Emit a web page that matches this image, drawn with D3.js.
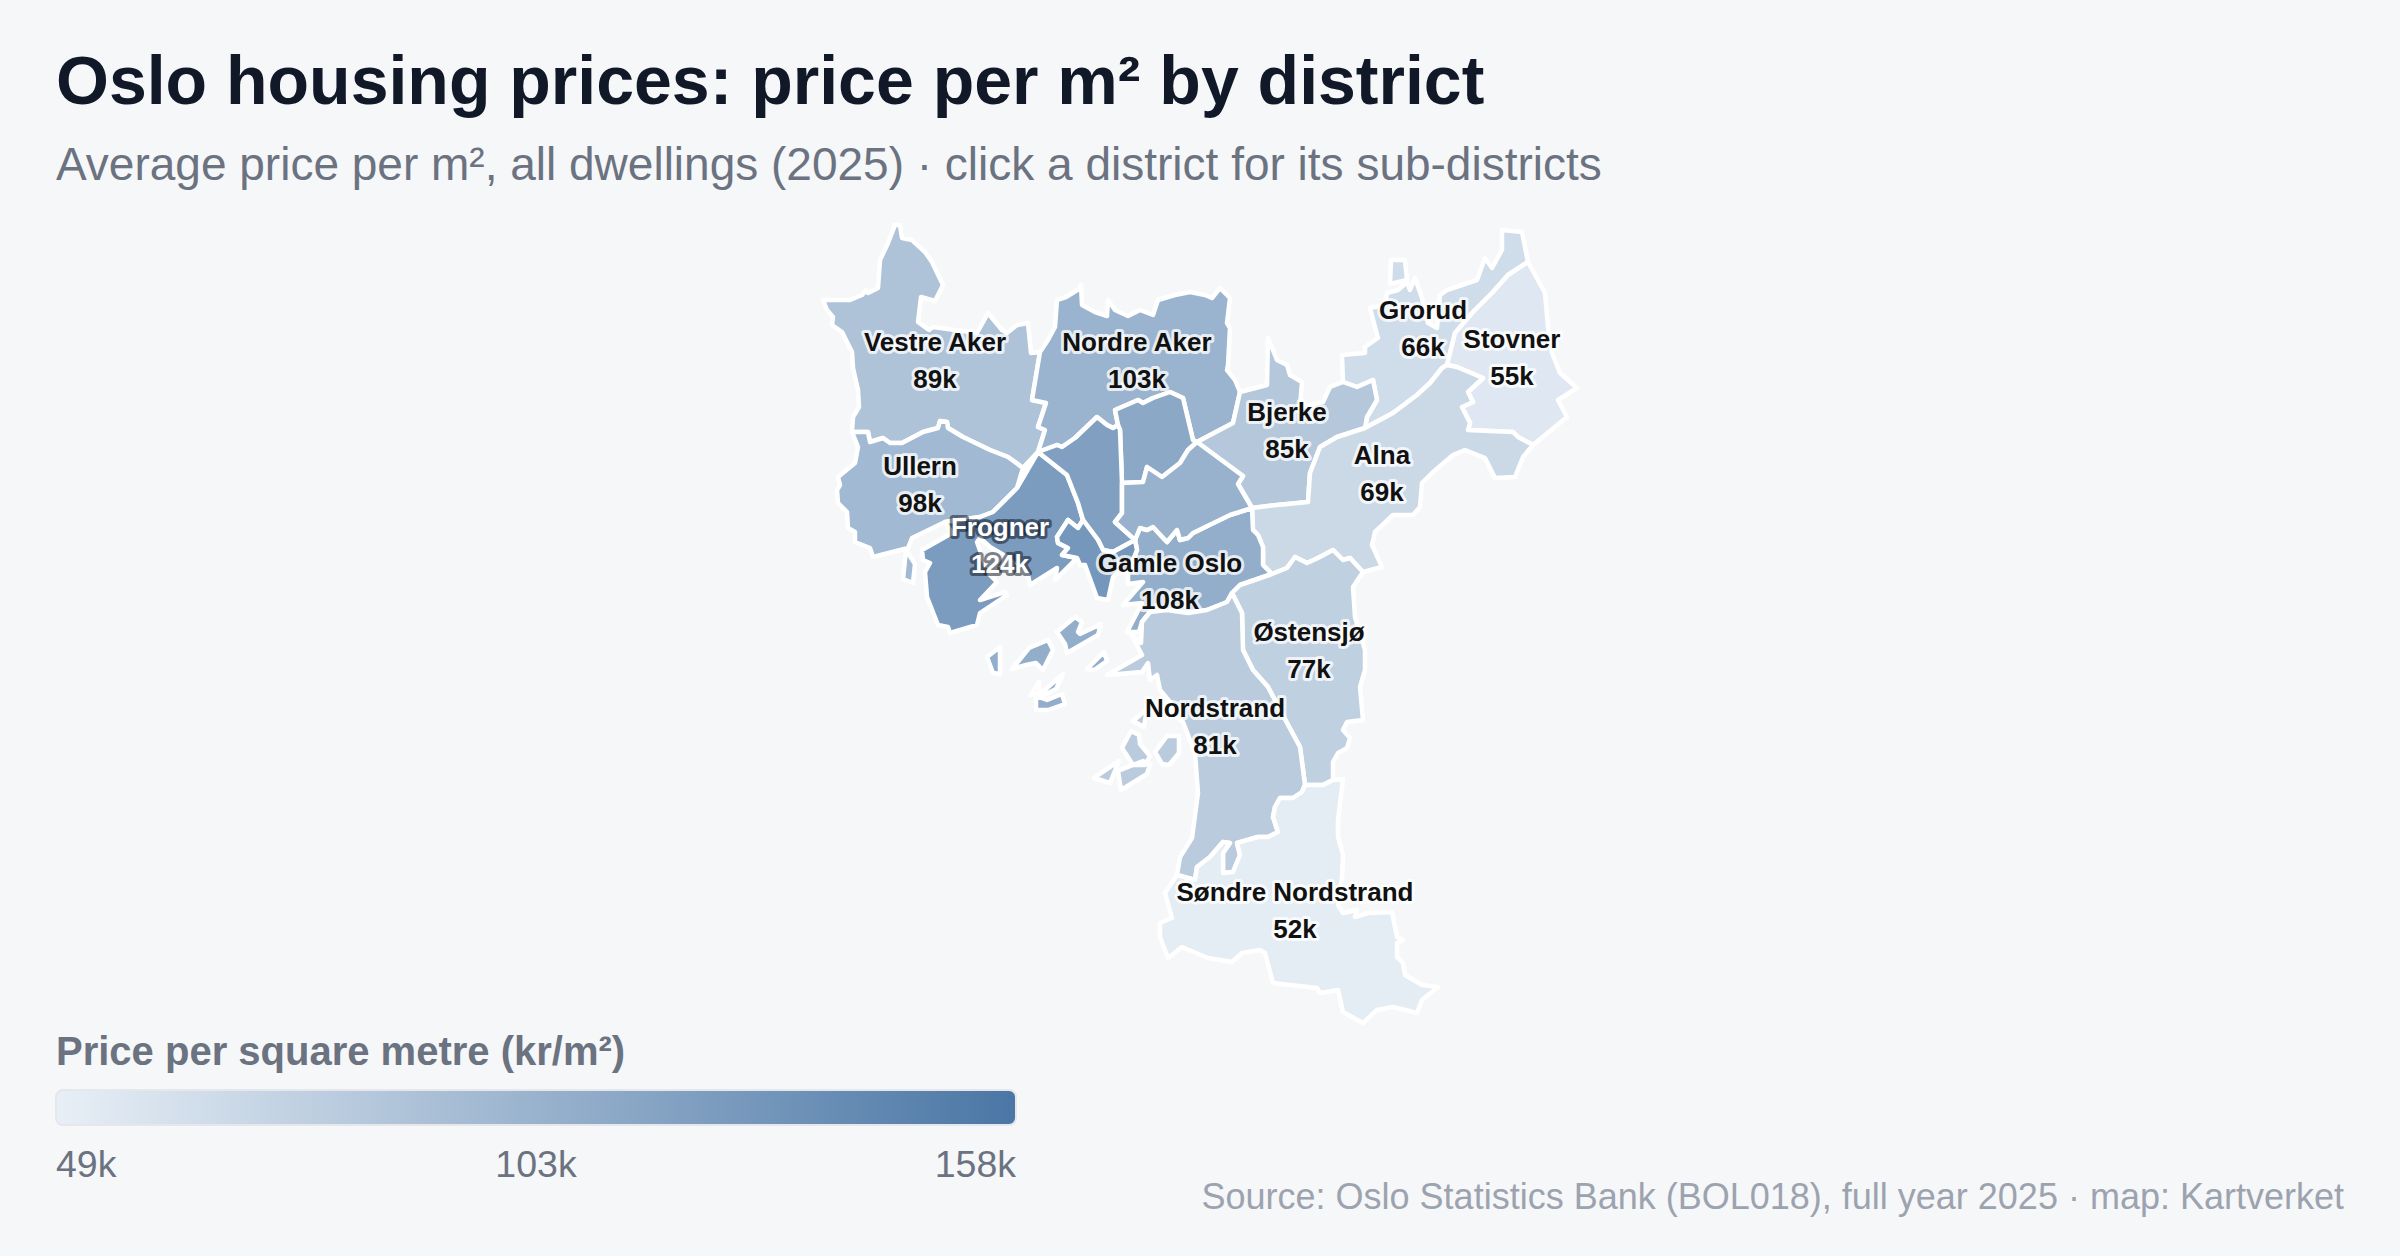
<!DOCTYPE html>
<html>
<head>
<meta charset="utf-8">
<title>Oslo housing prices</title>
<script src="https://cdn.jsdelivr.net/npm/d3@7"></script>
<style>
html, body { margin: 0; padding: 0; background: #f6f7f9; }
svg { display: block; font-family: "Liberation Sans", Arial, sans-serif; }
</style>
</head>
<body>
<svg id="chart" width="2400" height="1256"></svg>
<script>
// prices in thousand kr per m2
var districtNames = ["Vestre Aker","Nordre Aker","Grorud","Stovner","Bjerke","Alna","Ullern","Frogner","Gamle Oslo","Østensjø","Nordstrand","Søndre Nordstrand"];
var districtPrices = [89,103,66,55,85,69,98,124,108,77,81,52];
// these have no label on the map, price read off the fill colour
var quietNames = ["Sagene","St. Hanshaugen","Grünerløkka","Sentrum"];
var quietPrices = [113,120,104,128];
var legendTicks = [49,103,158];
var priceRange = [49,158];
var rampColors = ["#e8eff6","#4a76a5"];

// boundary arcs, shared between neighbours
var vaOuter = [[852,432],[853,417],[859,407],[858,390],[853,368],[852,352],[842,332],[832,325],[833,317],[827,310],[823,300],[850,300],[862,295],[866,290],[868,293],[878,288],[880,260],[888,243],[895,225],[900,225],[902,238],[912,240],[925,252],[932,262],[943,285],[935,301],[921,297],[918,322],[929,330],[933,327],[977,333],[988,313],[1002,330],[1007,333],[1017,325],[1028,323],[1031,353],[1040,352]];
var vaNa = [[1040,352],[1037,370],[1032,400],[1046,403],[1038,427],[1045,430],[1038,452]];
var vaFr = [[1038,452],[1023,468]];
var ulVa = [[852,432],[868,432],[870,442],[883,438],[890,443],[902,443],[923,432],[938,428],[940,421],[947,422],[948,428],[963,437],[990,450],[1008,457],[1023,468]];
var ulFr = [[1023,468],[1017,488],[993,512],[980,517],[945,522]];
var ulCoast = [[945,522],[912,538],[908,548],[873,557],[870,548],[855,542],[855,532],[848,528],[847,512],[838,503],[837,490],[840,485],[838,477],[855,463],[858,447],[852,432]];
var naOuter = [[1040,352],[1048,340],[1055,327],[1057,300],[1066,297],[1079,289],[1081,285],[1082,305],[1095,312],[1107,316],[1108,300],[1115,310],[1128,316],[1140,310],[1153,315],[1158,300],[1175,295],[1190,292],[1205,295],[1212,298],[1220,288],[1230,298],[1227,323],[1230,328],[1228,365],[1227,370],[1235,380],[1240,392]];
var naBj = [[1240,392],[1233,423],[1197,442]];
var naSa = [[1197,442],[1193,440],[1183,398],[1170,392],[1153,398],[1143,403],[1138,400],[1115,410],[1118,425]];
var naSh = [[1118,425],[1113,428],[1107,425],[1097,417],[1075,438],[1062,447],[1057,445],[1038,452]];
var saSh = [[1118,425],[1120,430],[1122,483]];
var saGr = [[1122,483],[1143,482],[1147,467],[1162,477],[1180,463],[1188,450],[1197,442]];
var shGr = [[1122,483],[1122,513],[1115,522],[1135,540]];
var shSe = [[1135,540],[1113,552],[1103,550],[1098,540],[1083,520]];
var shFr = [[1083,520],[1078,503],[1067,475],[1038,452]];
var grBj = [[1197,442],[1243,476],[1238,484],[1252,508]];
var grGa = [[1252,508],[1230,515],[1193,533],[1188,538],[1180,540],[1177,530],[1167,542],[1153,527],[1147,530],[1140,528],[1135,540]];
var seFr = [[1083,520],[1078,528],[1068,520],[1057,537],[1058,543],[1068,548],[1062,555],[1077,558]];
var seCoast = [[1077,558],[1080,565],[1085,565],[1097,598],[1108,600],[1113,577],[1117,573],[1128,573],[1137,550]];
var gaSe = [[1137,550],[1135,540]];
var frCoast = [[1077,558],[1055,580],[1057,568],[1030,585],[1028,575],[1020,570],[1007,557],[990,547],[980,538],[977,542],[988,573],[997,582],[980,600],[1005,592],[1007,595],[980,613],[977,625],[950,633],[948,627],[938,625],[927,597],[925,572],[930,563],[923,560],[922,550],[952,533],[945,522]];
var gaAl = [[1252,508],[1253,530],[1258,535],[1263,547],[1263,565],[1272,574]];
var gaOs = [[1272,574],[1240,585],[1232,593]];
var gaNo = [[1232,593],[1227,602],[1207,610],[1188,613],[1167,610],[1150,612],[1142,622]];
var gaCoast = [[1142,622],[1139,632],[1127,632],[1142,603],[1123,605],[1143,582],[1128,584],[1128,573],[1137,550]];
var alBj = [[1252,508],[1277,505],[1308,502],[1310,473],[1320,447],[1337,437],[1365,428]];
var alGr = [[1365,428],[1393,413],[1417,395],[1430,383],[1442,368],[1447,365]];
var alSt = [[1447,365],[1457,367],[1483,378],[1468,392],[1473,402],[1462,407],[1470,423],[1468,430],[1513,432],[1518,437],[1533,445]];
var alOuter = [[1533,445],[1523,457],[1515,477],[1495,478],[1485,458],[1465,450],[1453,455],[1432,473],[1422,483],[1420,507],[1413,515],[1393,515],[1375,532],[1372,545],[1382,567],[1363,572]];
var alOs = [[1363,572],[1350,558],[1343,560],[1333,550],[1318,558],[1307,563],[1295,557],[1287,568],[1272,574]];
var bjOuter = [[1240,392],[1267,385],[1268,338],[1277,360],[1287,365],[1290,375],[1302,382],[1300,407],[1323,402],[1330,387],[1343,382]];
var bjGr = [[1343,382],[1357,387],[1373,380],[1377,400],[1367,417],[1365,428]];
var goOuter = [[1343,382],[1342,355],[1365,353],[1365,347],[1378,338],[1375,327],[1370,308],[1385,305],[1387,293],[1398,290],[1407,282],[1410,290],[1415,278],[1422,298],[1428,323],[1437,328],[1440,295],[1447,290],[1477,280],[1485,258],[1492,268],[1502,250],[1502,230],[1522,232],[1528,262]];
var goSt = [[1528,262],[1508,275],[1492,293],[1473,312],[1455,333],[1447,365]];
var stOuter = [[1528,262],[1545,293],[1548,327],[1552,353],[1560,373],[1577,388],[1558,400],[1567,417],[1533,445]];
var osOuter = [[1363,572],[1353,587],[1355,617],[1365,650],[1365,670],[1360,687],[1363,720],[1347,722],[1343,730],[1350,738],[1347,748],[1338,753],[1333,762],[1333,780]];
var osSo = [[1333,780],[1323,785],[1305,785]];
var noOs = [[1305,785],[1300,747],[1287,723],[1268,687],[1253,670],[1243,650],[1242,613],[1232,593]];
var noCoast = [[1142,622],[1141,643],[1131,634],[1142,655],[1107,675],[1142,672],[1148,663],[1150,680],[1157,675],[1160,690],[1170,702],[1177,717],[1183,722],[1195,753],[1198,793],[1192,838],[1180,857],[1177,875]];
var noSo = [[1177,875],[1195,880],[1197,867],[1210,857],[1223,842],[1230,843],[1223,853],[1223,873],[1233,872],[1240,855],[1237,843],[1258,837],[1268,837],[1278,832],[1273,817],[1275,807],[1280,798],[1293,798],[1302,792],[1305,785]];
var soOuter = [[1333,780],[1343,779],[1338,820],[1338,837],[1343,855],[1342,877],[1338,905],[1343,913],[1357,910],[1355,917],[1368,913],[1392,912],[1397,937],[1403,940],[1397,943],[1397,957],[1403,963],[1405,975],[1422,985],[1438,987],[1422,1000],[1417,1013],[1393,1007],[1377,1010],[1363,1023],[1343,1012],[1338,990],[1320,993],[1317,988],[1273,983],[1265,953],[1260,950],[1242,953],[1232,962],[1208,958],[1182,947],[1168,958],[1160,937],[1160,923],[1172,918],[1165,893],[1177,875]];

// islands
var ulIslands = [[[906,550],[915,564],[913,583],[903,579]]];
var goIslands = [[[1391,260],[1405,260],[1407,280],[1390,284]]];
var gaIslands = [
	[[1057,632],[1075,617],[1082,622],[1078,632],[1080,634],[1101,624],[1098,635],[1067,653],[1065,644]],
	[[1012,669],[1029,648],[1048,640],[1053,650],[1043,670],[1036,663],[1026,665]],
	[[987,657],[1000,647],[1000,674],[993,673]],
	[[1087,669],[1104,652],[1107,661],[1094,670]],
	[[1039,695],[1063,674],[1056,689],[1042,696]],
	[[1036,696],[1047,700],[1062,694],[1065,704],[1048,710],[1036,710]],
	[[1031,695],[1039,682],[1039,692]]
];
var noIslands = [
	[[1131,731],[1139,735],[1140,744],[1150,756],[1145,765],[1133,765],[1122,748]],
	[[1118,771],[1143,761],[1150,764],[1147,774],[1121,790]],
	[[1179,736],[1179,753],[1169,765],[1162,764],[1155,752],[1167,736]],
	[[1094,778],[1119,761],[1110,783]],
	[[1133,721],[1147,709],[1144,727]]
];

// where each label sits on the map, same order as districtNames
var labelAnchors = [[935,362],[1137,362],[1423,330],[1512,359],[1287,432],[1382,475],[920,486],[1000,547],[1170,583],[1309,652],[1215,728],[1295,912]];

function rev(a){
	return a.slice().reverse();
}
// join arcs into one closed ring, dropping the repeated joint points
function ring(){
	var out = [];
	for(var i=0;i<arguments.length;i++){
		var arc = arguments[i];
		out = out.concat(i==0 ? arc : arc.slice(1));
	}
	return out;
}
function feature(name, price, rings){
	var polys = rings.map(function(r){
		var closed = r.slice();
		closed.push(r[0]);
		return [closed];
	});
	return {type:"Feature", properties:{name:name, price:price}, geometry:{type:"MultiPolygon", coordinates:polys}};
}

var shapes = {
	"Vestre Aker": [ring(vaOuter,vaNa,vaFr,rev(ulVa))],
	"Ullern": [ring(ulVa,ulFr,ulCoast)].concat(ulIslands),
	"Nordre Aker": [ring(naOuter,naBj,naSa,naSh,rev(vaNa))],
	"Sagene": [ring(saSh,saGr,naSa)],
	"St. Hanshaugen": [ring(rev(naSh),saSh,shGr,shSe,shFr)],
	"Grünerløkka": [ring(saGr,grBj,grGa,rev(shGr))],
	"Sentrum": [ring(seFr,seCoast,gaSe,shSe)],
	"Frogner": [ring(rev(vaFr),ulFr,rev(frCoast),rev(seFr),shFr)],
	"Gamle Oslo": [ring(rev(grGa),gaAl,gaOs,gaNo,gaCoast,gaSe)].concat(gaIslands),
	"Alna": [ring(alBj,alGr,alSt,alOuter,alOs,rev(gaAl))],
	"Bjerke": [ring(bjOuter,bjGr,rev(alBj),rev(grBj),rev(naBj))],
	"Grorud": [ring(goOuter,goSt,rev(alGr),rev(bjGr))].concat(goIslands),
	"Stovner": [ring(stOuter,rev(alSt),rev(goSt))],
	"Østensjø": [ring(rev(gaOs),rev(alOs),osOuter,osSo,noOs)],
	"Nordstrand": [ring(gaNo,noCoast,noSo,noOs)].concat(noIslands),
	"Søndre Nordstrand": [ring(noSo,rev(osSo),soOuter)]
};

var svg = d3.select("#chart");

var color = d3.scaleLinear().domain(priceRange).range(rampColors).interpolate(d3.interpolateRgb);

var features = [];
districtNames.forEach(function(n,i){ features.push(feature(n,districtPrices[i],shapes[n])); });
quietNames.forEach(function(n,i){ features.push(feature(n,quietPrices[i],shapes[n])); });

var path = d3.geoPath(d3.geoIdentity());

svg.append("text").attr("x",56).attr("y",104)
	.attr("font-size",68).attr("font-weight",700).attr("fill","#111827")
	.text("Oslo housing prices: price per m² by district");
svg.append("text").attr("x",56).attr("y",180)
	.attr("font-size",46).attr("fill","#6b7280")
	.text("Average price per m², all dwellings (2025) · click a district for its sub-districts");

svg.append("g").selectAll("path")
	.data(features)
	.enter()
		.append("path")
		.attr("d",path)
		.attr("fill",function(d){return color(d.properties.price);})
		.attr("stroke","#fff")
		.attr("stroke-width",4.5)
		.attr("stroke-linejoin","round");

var labels = svg.append("g").attr("text-anchor","middle").attr("font-weight",700).attr("font-size",26);
districtNames.forEach(function(n,i){
	var dark = districtPrices[i] > 120;
	var a = labelAnchors[i];
	[[n,-11],[districtPrices[i]+"k",26]].forEach(function(line){
		labels.append("text")
			.attr("x",a[0]).attr("y",a[1]+line[1])
			.attr("fill",dark ? "#fff" : "#111")
			.attr("stroke",dark ? "rgba(17,24,39,0.55)" : "rgba(255,255,255,0.75)")
			.attr("stroke-width",6)
			.attr("stroke-linejoin","round")
			.attr("paint-order","stroke")
			.text(line[0]);
	});
});

// legend
var legendX = d3.scalePoint().domain(legendTicks).range([56,1016]);
var defs = svg.append("defs");
var grad = defs.append("linearGradient").attr("id","ramp");
grad.selectAll("stop")
	.data(priceRange)
	.enter()
		.append("stop")
		.attr("offset",function(d,i){return i*100+"%";})
		.attr("stop-color",function(d){return color(d);});

svg.append("text").attr("x",56).attr("y",1065)
	.attr("font-size",40).attr("font-weight",700).attr("fill","#6b7280")
	.text("Price per square metre (kr/m²)");
svg.append("rect").attr("x",56).attr("y",1090).attr("width",960).attr("height",35)
	.attr("rx",7).attr("ry",7).attr("fill","url(#ramp)").attr("stroke","#e5e7eb").attr("stroke-width",2);

svg.append("g").selectAll("text")
	.data(legendTicks)
	.enter()
		.append("text")
		.attr("x",function(d){return legendX(d);})
		.attr("y",1177)
		.attr("font-size",37.5)
		.attr("fill","#6b7280")
		.attr("text-anchor",function(d,i){return ["start","middle","end"][i];})
		.text(function(d){return d+"k";});

svg.append("text").attr("x",2344).attr("y",1209)
	.attr("font-size",36).attr("fill","#9ca3af").attr("text-anchor","end")
	.text("Source: Oslo Statistics Bank (BOL018), full year 2025 · map: Kartverket");
</script>
</body>
</html>
